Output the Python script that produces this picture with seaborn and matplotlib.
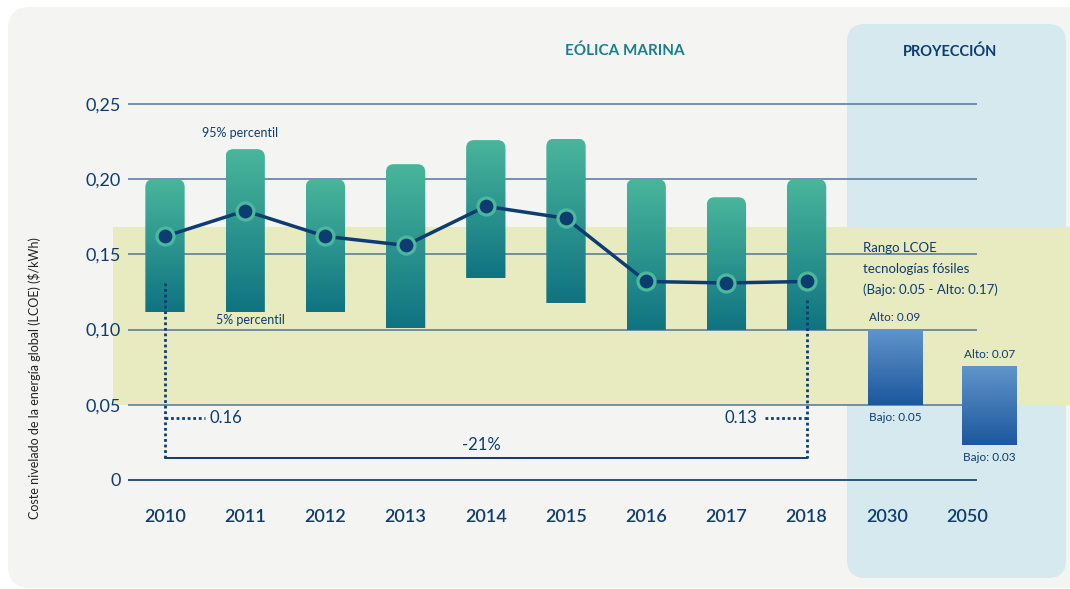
import numpy as np
import pandas as pd
import matplotlib
matplotlib.use("Agg")
import matplotlib.pyplot as plt
import seaborn as sns
from matplotlib.colors import LinearSegmentedColormap
from matplotlib.patches import FancyBboxPatch

# Offshore wind LCOE, 5th-95th percentile range and weighted average
years_hist = [2010, 2011, 2012, 2013, 2014, 2015, 2016, 2017, 2018]
p95 = [0.200, 0.220, 0.200, 0.210, 0.226, 0.227, 0.200, 0.188, 0.200]
p5 = [0.112, 0.112, 0.112, 0.101, 0.134, 0.118, 0.100, 0.100, 0.100]
avg = [0.162, 0.179, 0.162, 0.156, 0.182, 0.174, 0.132, 0.131, 0.132]

# Projection
years_proj = [2030, 2050]
proj_high = [0.100, 0.075]
proj_low = [0.050, 0.023]
proj_high_lbl = ["Alto: 0.09", "Alto: 0.07"]
proj_low_lbl = ["Bajo: 0.05", "Bajo: 0.03"]

# fossil fuel range band
fossil_range = [0.05, 0.168]

yticks = [0, 0.05, 0.10, 0.15, 0.20, 0.25]
ytick_labels = ["0", "0,05", "0,10", "0,15", "0,20", "0,25"]

navy = "#0d3c70"
teal_top = "#49b69b"
teal_bot = "#0f7381"
blue_top = "#6095cb"
blue_bot = "#1c579e"
grid_c = "#4f76a0"

sns.set_theme(style="white")
plt.rcParams["font.family"] = ["Lato", "DejaVu Sans"]

fig = plt.figure(figsize=(10.7, 5.89), dpi=100)
fig.patch.set_facecolor("white")
ax = fig.add_axes([0, 0, 1, 1])
ax.patch.set_facecolor("none")

# pixel mapping used for limits (x: 80.2 px per year, y: 1504 px per $/kWh)
XL = (-165 / 80.2, (1070 - 165) / 80.2)
YL = (-(589 - 480) / 1504, 480 / 1504)
aspect = 80.2 / 1504

# background card and projection panel
ax.add_patch(FancyBboxPatch((8 / 1070, 1 / 589), 1.05, 581 / 589,
                            boxstyle="round,pad=0,rounding_size=0.0206",
                            mutation_aspect=1070 / 589, transform=ax.transAxes,
                            fc="#f4f4f2", ec="none", zorder=-10, clip_on=False))
ax.add_patch(FancyBboxPatch((847 / 1070, 11 / 589), 219 / 1070, 554 / 589,
                            boxstyle="round,pad=0,rounding_size=0.0168",
                            mutation_aspect=1070 / 589, transform=ax.transAxes,
                            fc="#d6e9ee", ec="none", zorder=-9, clip_on=False))

ax.axhspan(fossil_range[0], fossil_range[1], xmin=113 / 1070, xmax=1,
           color="#e8eabf", lw=0, zorder=0.5)

ax.hlines(yticks[1:], -0.461, 10.125, color=grid_c, lw=1.1, zorder=1)
ax.hlines(0, -0.461, 10.125, color="#1d4677", lw=1.3, zorder=1)

df = pd.DataFrame({"year": years_hist, "p5": p5, "p95": p95, "avg": avg})
df["span"] = df["p95"] - df["p5"]

n_before = len(ax.patches)
sns.barplot(data=df, x="year", y="span", bottom=df["p5"].to_numpy(),
            width=0.49, errorbar=None, color=teal_bot, ax=ax)
hist_bars = list(ax.patches[n_before:])

proj_pos = np.arange(len(years_hist), len(years_hist) + len(years_proj)) + np.array([0.1, 0.28])
proj_bars = ax.bar(proj_pos, np.array(proj_high) - np.array(proj_low),
                   bottom=proj_low, width=0.68)


def paint(bars, top, bot, rounded):
    cmap = LinearSegmentedColormap.from_list("g", [bot, top])
    grad = np.linspace(0, 1, 256).reshape(-1, 1)
    for b in bars:
        x, y, w, h = b.get_x(), b.get_y(), b.get_width(), b.get_height()
        b.set_visible(False)
        im = ax.imshow(grad, cmap=cmap, origin="lower", aspect="auto",
                       extent=[x, x + w, y, y + h], zorder=3, interpolation="bilinear")
        if rounded:
            clip = FancyBboxPatch((x, y - h), w, 2 * h,
                                  boxstyle="round,pad=0,rounding_size=0.1",
                                  mutation_aspect=aspect, transform=ax.transData,
                                  fc="none", ec="none")
            im.set_clip_path(clip)


paint(hist_bars, teal_top, teal_bot, True)
paint(proj_bars, blue_top, blue_bot, False)

xs = np.arange(len(years_hist))
sns.lineplot(x=xs, y=df["avg"], color=navy, lw=2.5, ax=ax, zorder=5)
sns.scatterplot(x=xs, y=df["avg"], s=150, color=navy, edgecolor="#4cb99d",
                linewidth=2.3, ax=ax, zorder=6)

# dotted markers for 2010 -> 2018 change
dot = (0, (1, 1))
ax.plot([0, 0], [0.131, 0.0146], color=navy, lw=2, ls=dot, zorder=4)
ax.plot([8, 8], [0.120, 0.0146], color=navy, lw=2, ls=dot, zorder=4)
ax.plot([0, 8], [0.0146, 0.0146], color=navy, lw=1.4, zorder=4)
ax.plot([0, 0.5], [0.041, 0.041], color=navy, lw=2, ls=dot, zorder=4)
ax.plot([7.48, 8], [0.041, 0.041], color=navy, lw=2, ls=dot, zorder=4)
ax.text(0.56, 0.041, "0.16", color=navy, fontsize=12, ha="left", va="center")
ax.text(7.38, 0.041, "0.13", color=navy, fontsize=12, ha="right", va="center")
ax.text(3.95, 0.0233, "-21%", color=navy, fontsize=12, ha="center", va="center")

ax.text(0.935, 0.2307, "95% percentil", color=navy, fontsize=9, ha="center", va="center")
ax.text(1.06, 0.1064, "5% percentil", color=navy, fontsize=9, ha="center", va="center")

ax.text(8.70, 0.1543, "Rango LCOE", color=navy, fontsize=9.5, ha="left", va="center")
ax.text(8.70, 0.1403, "tecnologías fósiles", color=navy, fontsize=9.5, ha="left", va="center")
ax.text(8.70, 0.1263, "(Bajo: 0.05 - Alto: 0.17)", color=navy, fontsize=9.5,
        ha="left", va="center")
for p, hi, lo, hl, ll in zip(proj_pos, proj_high, proj_low, proj_high_lbl, proj_low_lbl):
    ax.text(p, hi + 0.0045, hl, color=navy, fontsize=8.5, ha="center", va="bottom")
    ax.text(p, lo - 0.0045, ll, color=navy, fontsize=8.5, ha="center", va="top")

ax.text(5.73, 0.2857, "EÓLICA MARINA", color="#17808a", fontsize=11,
        fontweight="bold", ha="center", va="center")
ax.text(9.79, 0.2846, "PROYECCIÓN", color=navy, fontsize=10.5,
        fontweight="bold", ha="center", va="center")

fig.text(35 / 1070, 1 - 378 / 589, "Coste nivelado de la energía global (LCOE) ($/kWh)",
         rotation=90, ha="center", va="center", fontsize=9, color="#222222")

# axes ticks placed via spine positions
ax.spines["left"].set_position(("data", -0.461))
ax.spines["bottom"].set_position(("data", 0))
for s in ax.spines.values():
    s.set_color("none")
ax.set_yticks(yticks, ytick_labels)
ax.set_xticks(list(xs) + [9, 10], [str(y) for y in years_hist + years_proj])
ax.tick_params(axis="y", length=0, pad=5, labelsize=13, labelcolor=navy)
ax.tick_params(axis="x", length=0, pad=21, labelsize=13, labelcolor=navy)
for lbl in ax.get_xticklabels():
    lbl.set_fontweight("semibold")
ax.set(xlabel="", ylabel="")
ax.grid(False)
ax.set_xlim(*XL)
ax.set_ylim(*YL)

fig.savefig("out.png", dpi=100)
